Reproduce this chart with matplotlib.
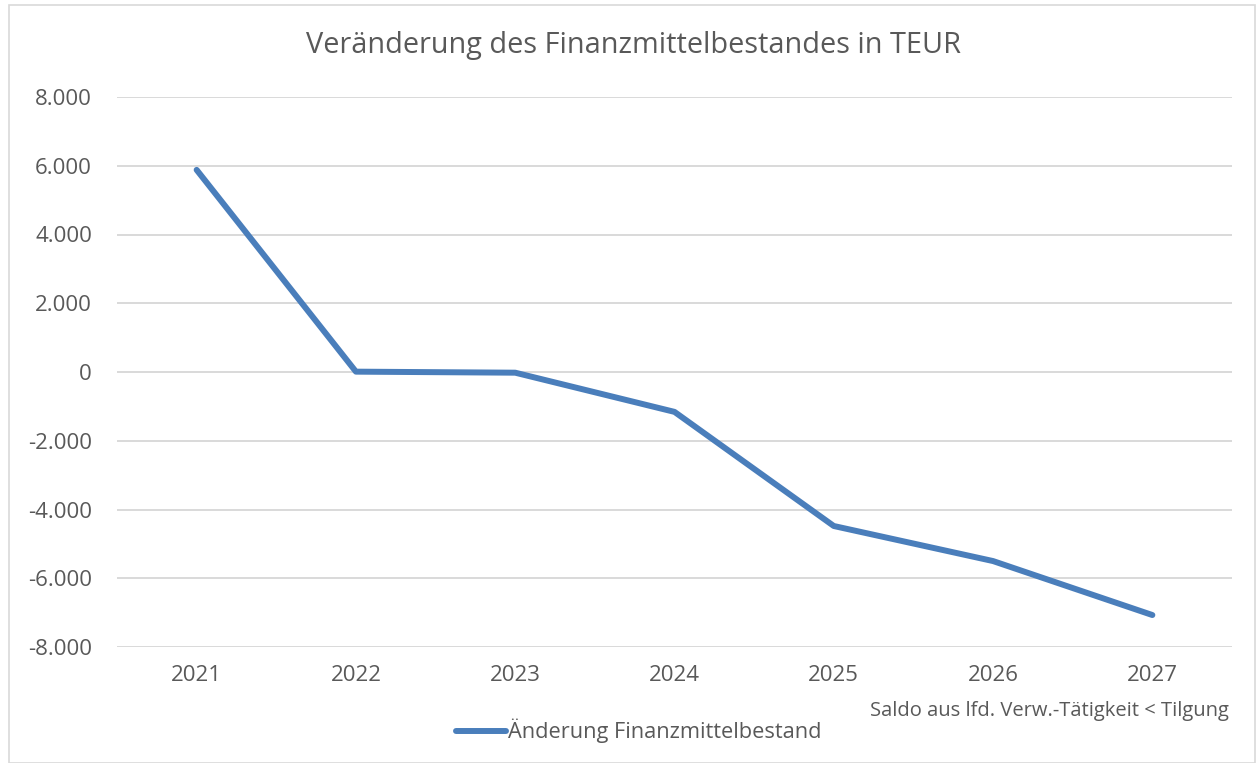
import matplotlib.pyplot as plt
from matplotlib.patches import Rectangle
from matplotlib.ticker import FuncFormatter, MultipleLocator

plt.rcParams['font.family'] = ['Open Sans', 'DejaVu Sans']

years = ['2021', '2022', '2023', '2024', '2025', '2026', '2027']
values = [5880, 10, -20, -1160, -4480, -5500, -7070]
series_label = 'Änderung Finanzmittelbestand'
title = 'Veränderung des Finanzmittelbestandes in TEUR'
note = 'Saldo aus lfd. Verw.-Tätigkeit < Tilgung'

text_col = '#595959'
line_col = '#4A7EBB'

fig = plt.figure(figsize=(12.58, 7.63), dpi=100)
ax = fig.add_axes([117 / 1258, 1 - 647 / 763, (1232 - 117) / 1258, (647 - 97) / 763])

x = list(range(len(years)))
ax.plot(x, values, color=line_col, linewidth=4.3, solid_capstyle='round',
        solid_joinstyle='round', label=series_label, zorder=3)

ax.set_xlim(-0.5, len(years) - 0.5)
ax.set_ylim(-8000, 8000)
ax.yaxis.set_major_locator(MultipleLocator(2000))
ax.yaxis.set_major_formatter(FuncFormatter(lambda v, p: f'{v:,.0f}'.replace(',', '.')))
ax.set_xticks(x)
ax.set_xticklabels(years)
ax.grid(axis='y', color='#D9D9D9', linewidth=1.4, zorder=0)
ax.tick_params(length=0, labelsize=16, labelcolor=text_col)
ax.tick_params(axis='y', pad=18)
ax.tick_params(axis='x', pad=13)
for s in ax.spines.values():
    s.set_visible(False)

fig.text(634 / 1258, 1 - 45 / 763, title, ha='center', va='center', fontsize=20.8, color=text_col)
fig.text(1229 / 1258, 1 - 711 / 763, note, ha='right', va='center', fontsize=14.5, color=text_col)

fig.legend(loc='center', bbox_to_anchor=(639 / 1258, 1 - 731 / 763), frameon=False,
           fontsize=15.7, labelcolor=text_col, handlelength=2.3, handletextpad=0.1)

fig.patches.append(Rectangle((9 / 1258, 0), 1 - 12 / 1258, 1 - 5 / 763, transform=fig.transFigure,
                             fill=False, edgecolor='#D9D9D9', linewidth=1.2))

fig.savefig('out.png', dpi=100, facecolor='white')
